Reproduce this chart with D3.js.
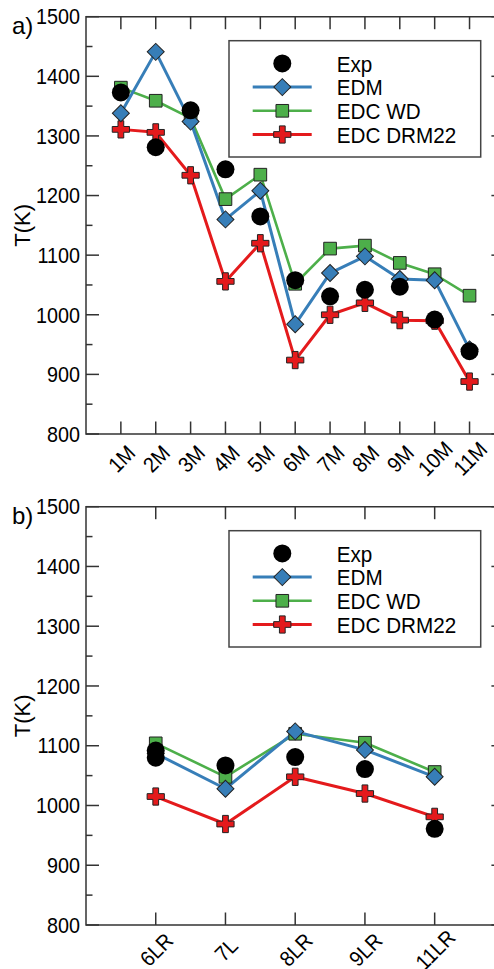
<!DOCTYPE html>
<html>
<head>
<meta charset="utf-8">
<script src="https://cdn.jsdelivr.net/npm/d3@7"></script>
<style>
  body { margin: 0; background: #fff; }
  svg { display: block; font-family: "Liberation Sans", Arial, sans-serif; }
</style>
</head>
<body>
<div id="chart"></div>
<script>
// Panel a) data
const catsA = ['1M', '2M', '3M', '4M', '5M', '6M', '7M', '8M', '9M', '10M', '11M'];
const expA = [1373, 1281, 1343, 1244, 1165, 1058, 1031, 1042, 1047, 992, 939];
const edmA = [1338, 1441, 1324, 1160, 1208, 984, 1070, 1098, 1060, 1058, 942];
const wdA = [1381, 1359, 1330, 1194, 1235, 1052, 1111, 1116, 1087, 1068, 1032];
const drmA = [1311, 1306, 1234, 1056, 1120, 924, 1000, 1020, 991, 990, 888];

// Panel b) data
const catsB = ['6LR', '7L', '8LR', '9LR', '11LR'];
const expB = [1092, 1067, 1081, 1061, 961];
const expB2Cats = ['6LR'];   // second experimental point at 6LR
const expB2 = [1080];
const edmB = [1087, 1028, 1124, 1093, 1048];
const wdB = [1104, 1048, 1120, 1105, 1056];
const drmB = [1015, 969, 1048, 1020, 981];

const yDomain = [800, 1500];
const seriesNames = ['Exp', 'EDM', 'EDC WD', 'EDC DRM22'];

const colors = { edm: '#377eb8', wd: '#4daf4a', drm: '#e41a1c' };
const axisColor = '#333';
const squeeze = 0.92; // text in the original is a bit narrow

const width = 494, height = 969;
const svg = d3.select('#chart').append('svg')
    .attr('width', width)
    .attr('height', height);

// marker shapes
const symCircle = d3.symbol().type(d3.symbolCircle).size(254)();
const symDiamond = d3.symbol().type(d3.symbolSquare).size(144)();
const symSquare = d3.symbol().type(d3.symbolSquare).size(160)();
const symCross = d3.symbol().type(d3.symbolCross).size(165)();

function drawPanel(opts) {
    const { top, bottom, left, right, cats, label } = opts;
    const g = svg.append('g');

    const x = d3.scalePoint().domain(cats).range([left, right]).padding(1);
    const y = d3.scaleLinear().domain(yDomain).range([bottom, top]);

    const majors = d3.range(800, 1501, 100);
    const minors = d3.range(850, 1500, 100);

    // frame
    g.append('path')
        .attr('d', `M${right},${top}H${left}V${bottom}H${right}V${top}`)
        .attr('fill', 'none')
        .attr('stroke', axisColor)
        .attr('stroke-width', 1.5);

    // y ticks, inward on both sides
    [[left, 1], [right, -1]].forEach(([x0, dir]) => {
        g.selectAll(null).data(majors).enter().append('line')
            .attr('x1', x0).attr('x2', x0 + dir * 13)
            .attr('y1', d => y(d)).attr('y2', d => y(d))
            .attr('stroke', axisColor).attr('stroke-width', 1.5);
        g.selectAll(null).data(minors).enter().append('line')
            .attr('x1', x0).attr('x2', x0 + dir * 6.5)
            .attr('y1', d => y(d)).attr('y2', d => y(d))
            .attr('stroke', axisColor).attr('stroke-width', 1.5);
    });

    // y tick labels
    g.selectAll(null).data(majors).enter().append('text')
        .attr('transform', d => `translate(${left - 6},${y(d)}) scale(${squeeze},1)`)
        .attr('dy', '0.36em')
        .attr('text-anchor', 'end')
        .style('font-size', '21.5px')
        .text(d => d);

    // x ticks on top and bottom, inward
    [[bottom, -1], [top, 1]].forEach(([y0, dir]) => {
        g.selectAll(null).data(cats).enter().append('line')
            .attr('x1', d => x(d)).attr('x2', d => x(d))
            .attr('y1', y0).attr('y2', y0 + dir * 12.5)
            .attr('stroke', axisColor).attr('stroke-width', 1.5);
    });

    // rotated category labels
    g.selectAll(null).data(cats).enter().append('text')
        .attr('transform', d => `translate(${x(d) + 6},${bottom + 30}) rotate(-45) scale(${squeeze},1)`)
        .attr('text-anchor', 'middle')
        .style('font-size', '21.5px')
        .text(d => d);

    // panel letter and axis title
    g.append('text')
        .attr('x', 12).attr('y', top + 17)
        .style('font-size', '24px')
        .text(label);

    g.append('text')
        .attr('transform', `translate(30,${(top + bottom) / 2}) rotate(-90)`)
        .attr('text-anchor', 'middle')
        .style('font-size', '22px')
        .text('T(K)');

    // series
    const line = d3.line().x(d => x(d.cat)).y(d => y(d.value));
    const toPts = (vals, cs) => vals.map((v, i) => ({ cat: (cs || cats)[i], value: v }));

    const series = [
        { pts: toPts(opts.drm), color: colors.drm, sym: symCross, width: 3 },
        { pts: toPts(opts.wd), color: colors.wd, sym: symSquare, width: 2.6 },
        { pts: toPts(opts.edm), color: colors.edm, sym: symDiamond, width: 3, rot: 45 }
    ];

    series.forEach(s => {
        g.append('path')
            .datum(s.pts)
            .attr('d', line)
            .attr('fill', 'none')
            .attr('stroke', s.color)
            .attr('stroke-width', s.width)
            .attr('stroke-linejoin', 'round');
    });
    series.forEach(s => {
        g.selectAll(null).data(s.pts).enter().append('path')
            .attr('d', s.sym)
            .attr('transform', d => `translate(${x(d.cat)},${y(d.value)})` + (s.rot ? ` rotate(${s.rot})` : ''))
            .attr('fill', s.color)
            .attr('stroke', '#222')
            .attr('stroke-width', 1);
    });

    // experimental points on top
    let expPts = toPts(opts.exp);
    if (opts.exp2) expPts = expPts.concat(toPts(opts.exp2, opts.exp2Cats));
    g.selectAll(null).data(expPts).enter().append('path')
        .attr('d', symCircle)
        .attr('transform', d => `translate(${x(d.cat)},${y(d.value)})`)
        .attr('fill', '#000');

    // legend
    const lg = g.append('g').attr('transform', `translate(229,${top + 24})`);
    lg.append('rect')
        .attr('width', 251.7).attr('height', 116.3)
        .attr('fill', '#fff')
        .attr('stroke', '#444')
        .attr('stroke-width', 1.5);

    const legendItems = [
        { name: seriesNames[0], sym: symCircle, color: '#000', noLine: true, stroke: 'none' },
        { name: seriesNames[1], sym: symDiamond, color: colors.edm, rot: 45, width: 3 },
        { name: seriesNames[2], sym: symSquare, color: colors.wd, width: 2.6 },
        { name: seriesNames[3], sym: symCross, color: colors.drm, width: 3 }
    ];
    legendItems.forEach((it, i) => {
        const yy = 22.7 + i * 23.7;
        if (!it.noLine) {
            lg.append('line')
                .attr('x1', 23.7).attr('x2', 82.7)
                .attr('y1', yy).attr('y2', yy)
                .attr('stroke', it.color)
                .attr('stroke-width', it.width);
        }
        lg.append('path')
            .attr('d', it.sym)
            .attr('transform', `translate(53.3,${yy})` + (it.rot ? ` rotate(${it.rot})` : ''))
            .attr('fill', it.color)
            .attr('stroke', it.stroke || '#222')
            .attr('stroke-width', 1);
        lg.append('text')
            .attr('transform', `translate(107.7,${yy}) scale(${squeeze},1)`)
            .attr('dy', '0.36em')
            .style('font-size', '22.5px')
            .text(it.name);
    });
}

drawPanel({
    top: 16.7, bottom: 434, left: 86, right: 504.4,
    cats: catsA, label: 'a)',
    exp: expA, edm: edmA, wd: wdA, drm: drmA
});

drawPanel({
    top: 506.7, bottom: 925, left: 86, right: 504.4,
    cats: catsB, label: 'b)',
    exp: expB, exp2: expB2, exp2Cats: expB2Cats, edm: edmB, wd: wdB, drm: drmB
});
</script>
</body>
</html>
